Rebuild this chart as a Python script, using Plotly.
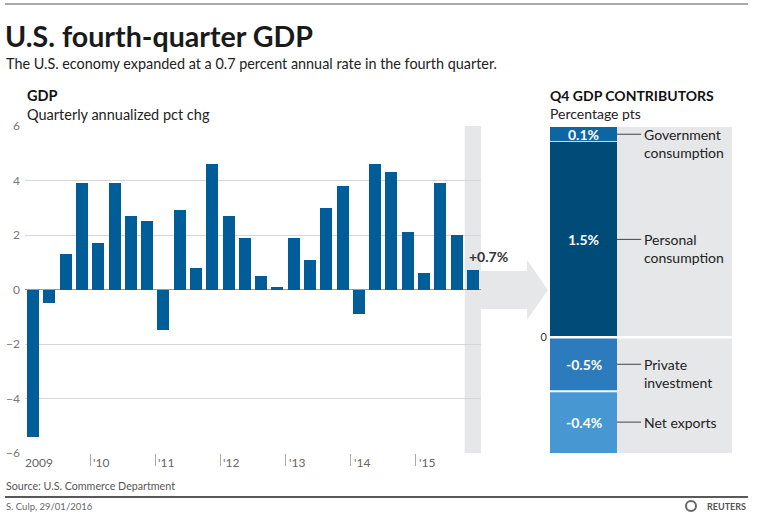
import plotly.graph_objects as go

W, H = 770, 524
def px(x): return x / W
def py(y): return 1 - y / H

# ---------------- data ----------------
quarters = ["2009 Q1", "2009 Q2", "2009 Q3", "2009 Q4",
            "2010 Q1", "2010 Q2", "2010 Q3", "2010 Q4",
            "2011 Q1", "2011 Q2", "2011 Q3", "2011 Q4",
            "2012 Q1", "2012 Q2", "2012 Q3", "2012 Q4",
            "2013 Q1", "2013 Q2", "2013 Q3", "2013 Q4",
            "2014 Q1", "2014 Q2", "2014 Q3", "2014 Q4",
            "2015 Q1", "2015 Q2", "2015 Q3", "2015 Q4"]
gdp = [-5.4, -0.5, 1.3, 3.9,
       1.7, 3.9, 2.7, 2.5,
       -1.5, 2.9, 0.8, 4.6,
       2.7, 1.9, 0.5, 0.1,
       1.9, 1.1, 3.0, 3.8,
       -0.9, 4.6, 4.3, 2.1,
       0.6, 3.9, 2.0, 0.7]
year_labels = ["2009", "'10", "'11", "'12", "'13", "'14", "'15"]
y_ticks = [-6, -4, -2, 0, 2, 4, 6]

# stacking order: positives (bottom->top), then negatives (top->bottom)
contrib_names = ["Personal<br>consumption", "Government<br>consumption",
                 "Private<br>investment", "Net exports"]
contrib_vals = [1.49, 0.11, -0.41, -0.47]
contrib_labels = ["1.5%", "0.1%", "-0.5%", "-0.4%"]
contrib_colors = ["#004b77", "#0d66a1", "#2b7bbd", "#4697d2"]

BAR = "#005d98"
GRAY_BG = "#e6e7e9"
FONT = "Lato, sans-serif"
TXT = "#222222"

xidx = list(range(len(gdp)))

fig = go.Figure()
fig.add_trace(go.Bar(x=xidx, y=gdp, customdata=quarters, marker_color=BAR,
                     marker_line_width=0, width=0.74, xaxis="x", yaxis="y",
                     hovertemplate="%{customdata}: %{y}%<extra></extra>",
                     showlegend=False))

for name, v, c in zip(contrib_names, contrib_vals, contrib_colors):
    fig.add_trace(go.Bar(x=[0.5], y=[v], marker_color=c, marker_line_width=0,
                         width=1.0, xaxis="x2", yaxis="y2", name=name,
                         hovertemplate=name.replace("<br>", " ") + ": %{y}<extra></extra>",
                         showlegend=False))

shapes = []
annotations = []

last = len(gdp) - 1
# gray highlight band for latest quarter
shapes.append(dict(type="rect", xref="x", yref="y domain", x0=last - 0.5, x1=last + 0.5,
                   y0=0, y1=1, fillcolor=GRAY_BG, line_width=0, layer="below"))
# arrow
arrow_pts = [(481, 271), (527, 271), (527, 260), (548, 290), (527, 320), (527, 309), (481, 309)]
path = "M " + " L ".join(f"{px(a):.5f},{py(b):.5f}" for a, b in arrow_pts) + " Z"
shapes.append(dict(type="path", xref="paper", yref="paper", path=path,
                   fillcolor=GRAY_BG, line_width=0, layer="below"))
# right panel background
shapes.append(dict(type="rect", xref="x2 domain", yref="y2 domain", x0=0, x1=1, y0=0, y1=1,
                   fillcolor=GRAY_BG, line_width=0, layer="below"))
# white separator at zero across right panel
shapes.append(dict(type="line", xref="x2 domain", yref="y2", x0=0, x1=1, y0=0, y1=0,
                   line=dict(color="white", width=2.5)))

pos_cum = sum(v for v in contrib_vals if v >= 0)
neg_cum = sum(v for v in contrib_vals if v < 0)
# separators between stacked segments
shapes.append(dict(type="line", xref="x2", yref="y2", x0=0, x1=1,
                   y0=contrib_vals[0], y1=contrib_vals[0], line=dict(color="#cfe0ee", width=1)))
shapes.append(dict(type="line", xref="x2", yref="y2", x0=0, x1=1,
                   y0=contrib_vals[2], y1=contrib_vals[2], line=dict(color="white", width=2)))

# segment labels + connectors + names
pos_base = 0
neg_base = 0
for name, v, lab in zip(contrib_names, contrib_vals, contrib_labels):
    if v >= 0:
        mid = pos_base + v / 2
        pos_base += v
    else:
        mid = neg_base + v / 2
        neg_base += v
    annotations.append(dict(xref="x2", yref="y2", x=0.5, y=mid, text=f"<b>{lab}</b>",
                            showarrow=False,
                            font=dict(family=FONT, size=14, color="white"),
                            xanchor="center", yanchor="middle"))
    shapes.append(dict(type="line", xref="x2", yref="y2", x0=1.0, x1=1.36, y0=mid, y1=mid,
                       line=dict(color="#444", width=1)))
    annotations.append(dict(xref="x2", yref="y2", x=1.38, y=mid, text=name, showarrow=False,
                            font=dict(family=FONT, size=14, color=TXT), align="left",
                            xanchor="left", yanchor="top", yshift=10))

# x year labels (left-aligned after tick)
year_pos = [4 * k - 0.5 for k in range(len(year_labels))]
for k, (lab, xp) in enumerate(zip(year_labels, year_pos)):
    annotations.append(dict(xref="x", yref="paper", x=xp, y=py(463), text=lab, showarrow=False,
                            font=dict(family=FONT, size=12, color="#666"),
                            xanchor="left", yanchor="middle", xshift=1 if k else -2))

# latest value label
annotations.append(dict(xref="x", yref="y", x=last - 0.37, y=gdp[-1], text=f"<b>+{gdp[-1]}%</b>",
                        showarrow=False, font=dict(family=FONT, size=14, color="#333"),
                        xanchor="left", yanchor="bottom", yshift=3))

# titles/headers
def txt(x, y, s, size, color=TXT, bold=False):
    annotations.append(dict(xref="paper", yref="paper", x=px(x), y=py(y),
                            text=f"<b>{s}</b>" if bold else s, showarrow=False,
                            font=dict(family=FONT, size=size, color=color),
                            xanchor="left", yanchor="middle", align="left"))

txt(3, 36, "U.S. fourth-quarter GDP", 28.6, "#1a1a1a", True)
txt(4, 63, "The U.S. economy expanded at a 0.7 percent annual rate in the fourth quarter.", 14.4)
txt(25, 105, "<span style='color:#111'><b>GDP</b></span><br>Quarterly annualized pct chg", 14.5)
txt(548, 105, "<span style='color:#111'><b>Q4 GDP CONTRIBUTORS</b></span><br>Percentage pts", 14)
txt(4, 485, "Source: U.S. Commerce Department", 10.7, "#555")
txt(4, 506, "S. Culp, 29/01/2016", 9.5, "#666")
annotations.append(dict(xref="paper", yref="paper", x=px(748), y=py(506), text="<b>REUTERS</b>",
                        showarrow=False, font=dict(family=FONT, size=9, color="#555"),
                        xanchor="right", yanchor="middle"))
shapes.append(dict(type="circle", xref="paper", yref="paper", x0=px(686), x1=px(696),
                   y0=py(511), y1=py(501), line=dict(color="#666", width=2)))
# rules
shapes.append(dict(type="line", xref="paper", yref="paper", x0=px(5), x1=px(748),
                   y0=py(497), y1=py(497), line=dict(color="#222", width=1.5)))
shapes.append(dict(type="line", xref="paper", yref="paper", x0=px(5), x1=px(748),
                   y0=py(4), y1=py(4), line=dict(color="#555", width=1.2)))

fig.update_layout(
    width=W, height=H, autosize=False,
    margin=dict(l=0, r=0, t=0, b=0, pad=0, autoexpand=False),
    paper_bgcolor="white", plot_bgcolor="rgba(0,0,0,0)",
    barmode="relative", bargap=0, showlegend=False,
    font=dict(family=FONT, color=TXT),
    xaxis=dict(domain=[px(25), px(481)], range=[-0.5, last + 0.5], showgrid=False,
               zeroline=False, showline=False, automargin=False,
               tickmode="array", tickvals=year_pos[1:], ticks="outside", ticklen=12,
               tickcolor="#aaa", tickwidth=1, showticklabels=False, fixedrange=True),
    yaxis=dict(domain=[py(453), py(126)], range=[-6, 6], tickmode="array", tickvals=y_ticks,
               showgrid=True, gridcolor="#d6d6d6", gridwidth=1, automargin=False,
               zeroline=True, zerolinecolor="#999", zerolinewidth=1.3,
               tickfont=dict(family=FONT, size=12, color="#777"), ticks="", ticklabelstandoff=4,
               showline=False, fixedrange=True),
    xaxis2=dict(domain=[px(550), px(732)], range=[0, 182 / 67], visible=False,
                anchor="y2", fixedrange=True, automargin=False),
    yaxis2=dict(domain=[py(453), py(127)], range=[neg_cum, pos_cum], anchor="x2",
                tickmode="array", tickvals=[0], ticktext=["0"], showgrid=False,
                zeroline=False, showline=False, ticks="", automargin=False,
                tickfont=dict(family=FONT, size=11, color="#333"), ticklabelstandoff=2,
                fixedrange=True),
    shapes=shapes, annotations=annotations,
)

fig.write_html("out.html", config={"displayModeBar": False},
               post_script="document.body.style.margin='0';document.body.style.padding='0';")
